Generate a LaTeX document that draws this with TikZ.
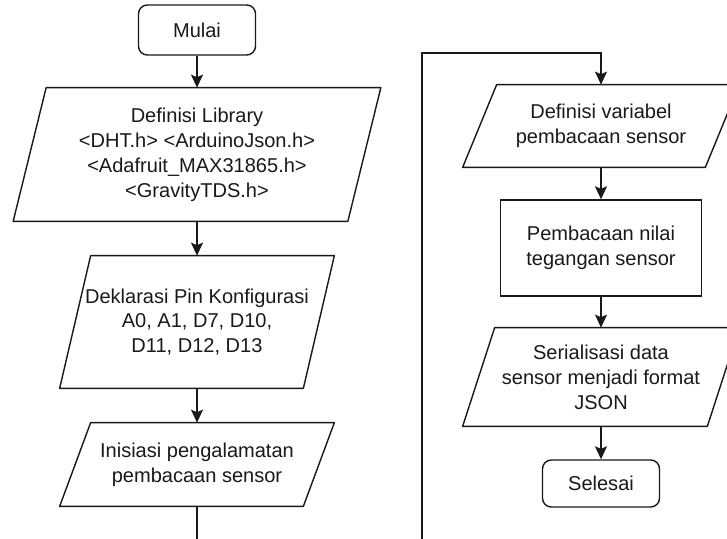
\documentclass[tikz,border=0pt]{standalone}
\usepackage{fontspec}
\setmainfont{Liberation Sans}
\usepackage{tikz}
\usetikzlibrary{arrows.meta}
\definecolor{flowline}{RGB}{25,25,25}
% cornice a parallelogramma attorno a un nodo: #1 nodo, #2 inclinazione
\newcommand{\ioframe}[2]{%
  \draw[draw=flowline, line width=0.8pt, line join=round]
    ([xshift=-0.5*#2]#1.south west) -- ([xshift=-0.5*#2]#1.south east)
    -- ([xshift=0.5*#2]#1.north east) -- ([xshift=0.5*#2]#1.north west) -- cycle;}

\begin{document}
\begin{tikzpicture}[
  every node/.style={font=\fontsize{11.4}{14.2}\selectfont, align=center, text=flowline},
  terminal/.style={draw=flowline, rounded corners=5pt, minimum width=2.34cm, minimum height=1.0cm, line width=0.8pt},
  iobox/.style={rectangle, inner sep=2pt},
  procbox/.style={draw=flowline, rectangle, line width=0.8pt},
  flow/.style={draw=flowline, -{Stealth[length=2.6mm,width=2.4mm,inset=0.5mm]}, line width=0.8pt}
]
\clip (0,0) rectangle (14.54,10.76);
%--- colonna sinistra ---
\node[terminal] (mulai) at (3.94,10.16) {Mulai};
\node[iobox, minimum width=6.68cm, minimum height=2.66cm] (deflib) at (3.94,7.67)
  {Definisi Library\\<DHT.h> <ArduinoJson.h>\\<Adafruit\_MAX31865.h>\\<GravityTDS.h>};
\node[iobox, minimum width=4.86cm, minimum height=2.64cm] (dekl) at (3.94,4.32)
  {Deklarasi Pin Konfigurasi\\A0, A1, D7, D10,\\D11, D12, D13};
\node[iobox, minimum width=4.86cm, minimum height=1.66cm] (inis) at (3.94,1.47)
  {Inisiasi pengalamatan\\pembacaan sensor};
\ioframe{deflib}{0.66cm}
\ioframe{dekl}{0.62cm}
\ioframe{inis}{0.62cm}
%--- colonna destra ---
\node[iobox, minimum width=4.84cm, minimum height=1.64cm] (defvar) at (12.02,8.24)
  {Definisi variabel\\pembacaan sensor};
\node[procbox, minimum width=4.02cm, minimum height=1.92cm] (baca) at (12.02,5.80) {Pembacaan nilai\\tegangan sensor};
\node[iobox, minimum width=4.88cm, minimum height=1.96cm] (serial) at (12.02,3.22)
  {Serialisasi data\\sensor menjadi format\\JSON};
\node[terminal, minimum height=0.94cm] (selesai) at (12.02,1.09) {Selesai};
\ioframe{defvar}{0.68cm}
\ioframe{serial}{0.64cm}
% frecce
\foreach \a/\b in {mulai/deflib, deflib/dekl, dekl/inis, defvar/baca, baca/serial, serial/selesai}{
  \draw[flow] (\a) -- (\b);
}
% collegamento tra le colonne
\coordinate (loopbot) at (8.44,-0.03);
\coordinate (looptop) at (8.44,9.70);
\draw[flow] (inis.south) |- (loopbot) -- (looptop) -| (defvar.north);
\end{tikzpicture}
\end{document}
